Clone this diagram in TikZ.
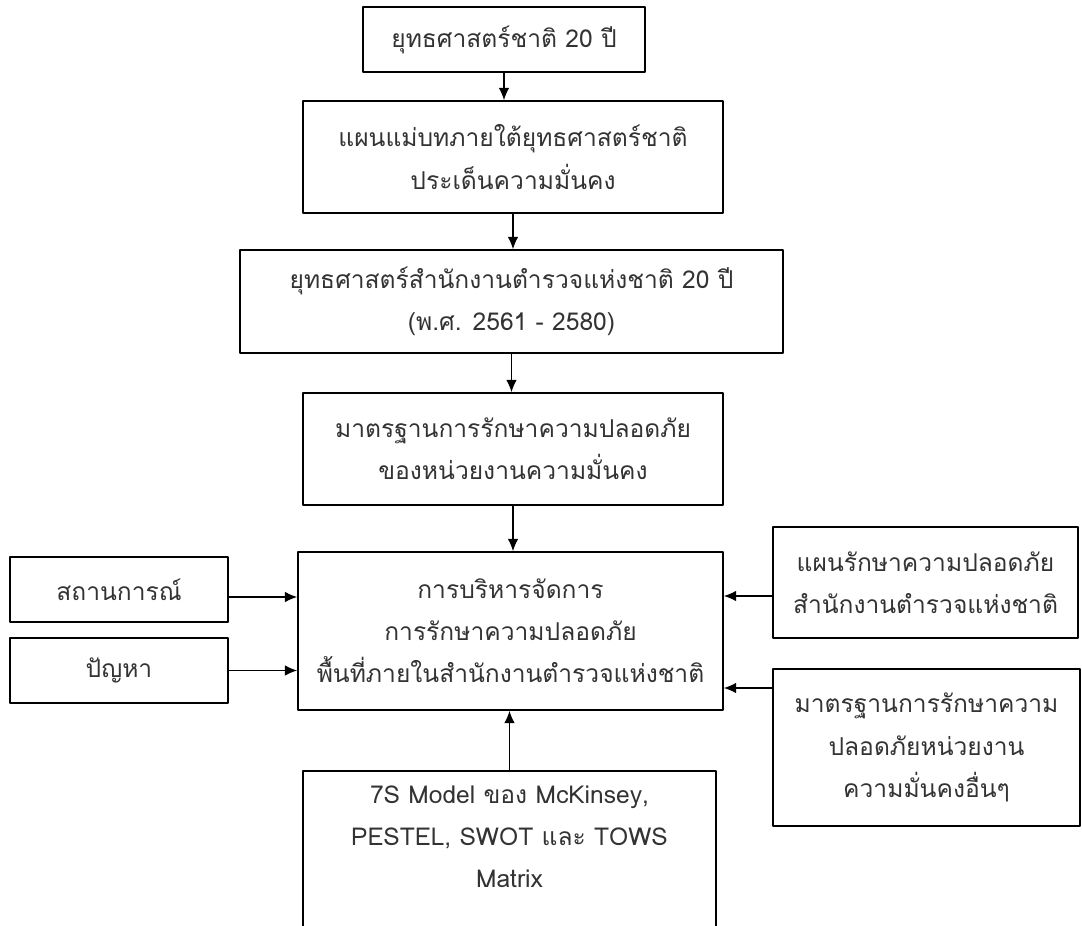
\documentclass[tikz,border=0pt]{standalone}
\usepackage{fontspec}
\newfontfamily\thaifont[Script=Thai]{Loma}
\usetikzlibrary{arrows.meta}

\begin{document}
\begin{tikzpicture}[x=0.02cm, y=-0.02cm, line join=round,
    box/.style={draw, line width=0.9pt, align=center, inner sep=2pt,
      text=black!80, font=\thaifont\fontsize{14}{24}\selectfont},
    arr/.style={-{Latex[length=7pt,width=6pt]}, line width=0.8pt}]
      \useasboundingbox (0,0) rectangle (1082,926);
      \clip (0,0) rectangle (1082,926);

      % Main column
      \node[box, minimum width=5.64cm, minimum height=1.30cm] (goal) at (504,39.5) {ยุทธศาสตร์ชาติ 20 ปี};
      \node[box, minimum width=8.40cm, minimum height=2.24cm] (master) at (513,157) {แผนแม่บทภายใต้ยุทธศาสตร์ชาติ\\ประเด็นความมั่นคง};
      \node[box, minimum width=10.86cm, minimum height=2.06cm] (police) at (511.5,301.5) {ยุทธศาสตร์สำนักงานตำรวจแห่งชาติ 20 ปี\\(พ.ศ. 2561 - 2580)};
      \node[box, minimum width=8.40cm, minimum height=2.24cm] (standard) at (513,449) {มาตรฐานการรักษาความปลอดภัย\\ของหน่วยงานความมั่นคง};
      \node[box, minimum width=8.50cm, minimum height=3.16cm] (manage) at (510.5,631) {การบริหารจัดการ\\การรักษาความปลอดภัย\\พื้นที่ภายในสำนักงานตำรวจแห่งชาติ};

      % Side inputs
      \node[box, minimum width=4.36cm, minimum height=1.30cm] (situation) at (119,589.5) {สถานการณ์};
      \node[box, minimum width=4.36cm, minimum height=1.30cm] (problem) at (119,670.5) {ปัญหา};
      \node[box, minimum width=6.10cm, minimum height=2.22cm] (plan) at (925.5,582.5) {แผนรักษาความปลอดภัย\\สำนักงานตำรวจแห่งชาติ};
      \node[box, minimum width=6.14cm, minimum height=3.14cm] (other) at (926.5,747.5) {มาตรฐานการรักษาความ\\ปลอดภัยหน่วยงาน\\ความมั่นคงอื่นๆ};

      % Tools (runs off the bottom)
      \node[box, anchor=north, inner ysep=0.3cm, minimum width=8.26cm] (tools) at (509.5,770) {7S Model ของ McKinsey,\\PESTEL, SWOT และ TOWS\\Matrix\\[2cm]\mbox{}};

      \draw[arr] (goal.south) -- (goal.south |- master.north);
      \draw[arr] (master.south) -- (master.south |- police.north);
      \draw[arr] (police.south) -- (police.south |- standard.north);
      \draw[arr] (standard.south) -- (standard.south |- manage.north);
      \draw[arr] (situation.east |- 0,597) -- (manage.west |- 0,597);
      \draw[arr] (problem.east) -- (manage.west |- problem.east);
      \draw[arr] (plan.west |- 0,596) -- (manage.east |- 0,596);
      \draw[arr] (other.west |- 0,688) -- (manage.east |- 0,688);
      \draw[arr] (tools.north) -- (tools.north |- manage.south);
    \end{tikzpicture}
\end{document}
